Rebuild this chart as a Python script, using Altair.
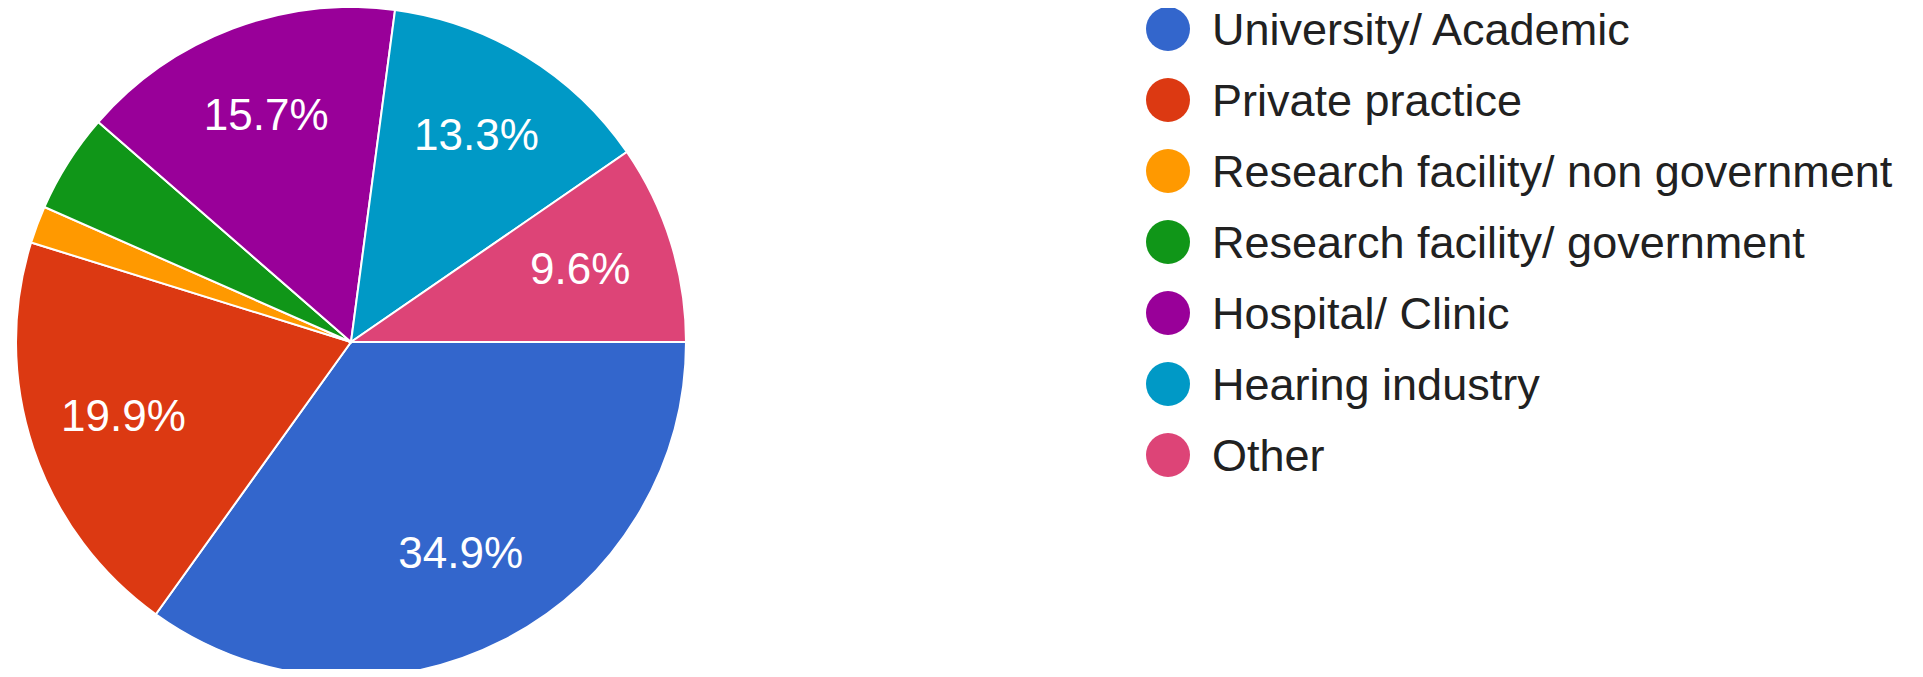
import math
import altair as alt
import pandas as pd

categories = [
    "University/ Academic",
    "Private practice",
    "Research facility/ non government",
    "Research facility/ government",
    "Hospital/ Clinic",
    "Hearing industry",
    "Other",
]
percent = [34.9, 19.9, 1.8, 4.8, 15.7, 13.3, 9.6]
colors = ["#3366cc", "#dc3912", "#ff9900", "#109618", "#990099", "#0099c6", "#dd4477"]

df = pd.DataFrame({"category": categories, "percent": percent, "order": list(range(len(categories)))})

base = alt.Chart(df)
theta = alt.Theta("percent:Q", stack=True,
                  scale=alt.Scale(range=[math.pi / 2, math.pi / 2 + 2 * math.pi]))
color = alt.Color("category:N", scale=alt.Scale(domain=categories, range=colors), legend=None)
order = alt.Order("order:Q", sort="ascending")

cx, cy = 343, 334

pie = base.mark_arc(outerRadius=335, stroke="white", strokeWidth=2).encode(
    theta=theta, color=color, order=order, x=alt.value(cx), y=alt.value(cy)
)

labels = base.transform_calculate(
    label="datum.percent >= 5 ? format(datum.percent, '.1f') + '%' : ''"
).mark_text(
    radius=240, fontSize=44, font="Liberation Sans", color="white",
    align="center", baseline="middle"
).encode(
    theta=theta, text="label:N", order=order, x=alt.value(cx), y=alt.value(cy)
)

yleg = alt.Y("category:N", sort=categories,
             scale=alt.Scale(type="point", domain=categories, range=[21, 447], padding=0),
             axis=None)

leg_dots = base.mark_point(filled=True, shape="circle", size=1936, opacity=1).encode(
    x=alt.value(1160), y=yleg, color=color
)
leg_text = base.mark_text(
    fontSize=45, font="Liberation Sans", color="#212121", align="left", baseline="middle", dy=2
).encode(x=alt.value(1204), y=yleg, text="category:N")

chart = alt.layer(pie, labels, leg_dots, leg_text).properties(
    width=1907, height=661, autosize=alt.AutoSizeParams(type="none"), padding=0
).configure_view(stroke=None)

chart.save("out.html", embed_options={"renderer": "svg", "actions": False})
